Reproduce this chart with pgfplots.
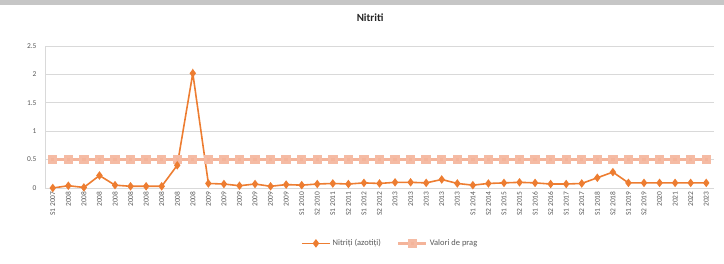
\documentclass[border=0pt]{standalone}
\usepackage{pgfplots}
\pgfplotsset{compat=1.18}
\usepackage{fontspec}
\setmainfont{Carlito}
\definecolor{nitr}{HTML}{ED7D31}
\definecolor{prag}{HTML}{F4B49A}
\definecolor{gridc}{HTML}{D9D9D9}
\definecolor{txt}{HTML}{595959}
\begin{document}
\begin{tikzpicture}
\useasboundingbox (0,0) rectangle (724bp,264bp);
\fill[gray!45] (0,259bp) rectangle (724bp,264bp);
\begin{axis}[
  at={(45bp,76bp)}, anchor=south west,
  scale only axis, width=669bp, height=142bp,
  xmin=-0.5, xmax=42.5, ymin=0, ymax=2.5,
  ytick={0,0.5,1,1.5,2,2.5},
  yticklabels={0,0.5,1,1.5,2,2.5},
  ymajorgrids, grid style={gridc, line width=0.8pt},
  axis x line*=bottom, axis y line*=left,
  axis line style={gridc, line width=0.8pt},
  x axis line style={-}, y axis line style={-},
  major tick length=0pt,
  xtick={0,...,42},
  xticklabels={S1 2007,2008,2008,2008,2008,2008,2008,2008,2008,2008,2009,2009,2009,2009,2009,2009,S1 2010,S2 2010,S1 2011,S2 2011,S1 2012,S2 2012,2013,2013,2013,2013,2013,S1 2014,S2 2014,S1 2015,S2 2015,S1 2016,S2 2016,S1 2017,S2 2017,S1 2018,S2 2018,S1 2019,S2 2019,2020,2021,2022,2023},
  xticklabel style={rotate=90, anchor=east, font=\fontsize{7.5}{8}\selectfont, text=txt},
  yticklabel style={font=\fontsize{7.5}{8}\selectfont, text=txt, xshift=-5bp},
  /pgf/number format/assume math mode=true,
  title={Nitriti},
  title style={at={(0.486,1.16)}, anchor=center, font=\bfseries\fontsize{11}{12}\selectfont, text=black!85},
  reverse legend,
  legend style={at={(0.516,-0.39)}, anchor=center, draw=none, font=\fontsize{8.5}{9}\selectfont, text=txt, legend columns=2, /tikz/every even column/.append style={column sep=14bp}},
  legend image code/.code={\draw[#1] (0bp,0bp) -- (14bp,0bp) plot coordinates {(14bp,0bp)} -- (28bp,0bp);},
]
\addplot[prag, line width=3pt, mark=square*, mark size=3.2pt, mark options={fill=prag, draw=prag!90!white}] coordinates {
(0,0.5)(1,0.5)(2,0.5)(3,0.5)(4,0.5)(5,0.5)(6,0.5)(7,0.5)(8,0.5)(9,0.5)(10,0.5)(11,0.5)(12,0.5)(13,0.5)(14,0.5)(15,0.5)(16,0.5)(17,0.5)(18,0.5)(19,0.5)(20,0.5)(21,0.5)(22,0.5)(23,0.5)(24,0.5)(25,0.5)(26,0.5)(27,0.5)(28,0.5)(29,0.5)(30,0.5)(31,0.5)(32,0.5)(33,0.5)(34,0.5)(35,0.5)(36,0.5)(37,0.5)(38,0.5)(39,0.5)(40,0.5)(41,0.5)(42,0.5)};
\addplot[nitr, line width=1.6pt, mark=diamond*, mark size=3pt, mark options={fill=nitr}] coordinates {
(0,0.0)(1,0.04)(2,0.01)(3,0.22)(4,0.05)(5,0.03)(6,0.03)(7,0.03)(8,0.4)(9,2.02)
(10,0.08)(11,0.07)(12,0.04)(13,0.07)(14,0.03)(15,0.06)(16,0.05)(17,0.07)(18,0.08)(19,0.07)
(20,0.09)(21,0.08)(22,0.1)(23,0.1)(24,0.09)(25,0.15)(26,0.08)(27,0.05)(28,0.08)(29,0.09)
(30,0.1)(31,0.09)(32,0.07)(33,0.07)(34,0.08)(35,0.18)(36,0.28)(37,0.09)(38,0.09)(39,0.09)
(40,0.09)(41,0.09)(42,0.09)};
\legend{Valori de prag,Nitriți (azotiți)}
\end{axis}
\end{tikzpicture}
\end{document}
